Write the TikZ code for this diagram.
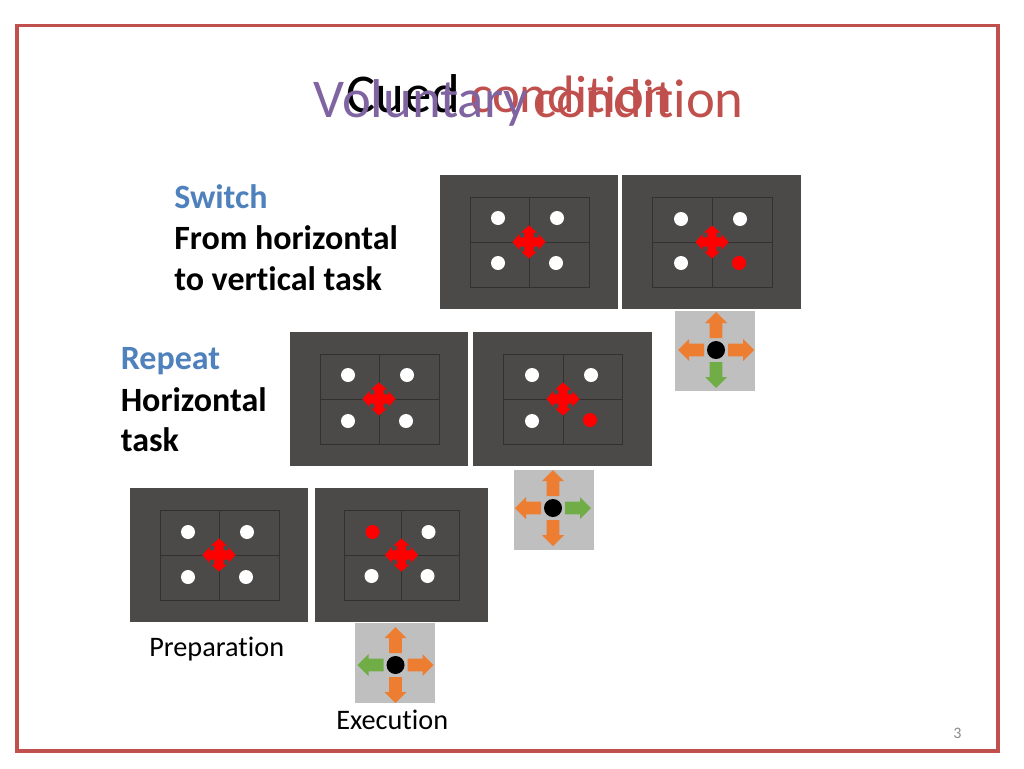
\documentclass[tikz,border=0pt]{standalone}
\usepackage{fontspec}
\setmainfont[Ligatures=CommonOff]{Carlito}
\definecolor{framered}{HTML}{C0504D}
\definecolor{titlepurple}{HTML}{8064A2}
\definecolor{headblue}{HTML}{4F81BD}
\definecolor{paneldark}{HTML}{4C4A48}
\definecolor{gridline}{HTML}{333130}
\definecolor{boxgray}{HTML}{BFBFBF}
\definecolor{arroworange}{HTML}{ED7D31}
\definecolor{arrowgreen}{HTML}{70AD47}
\definecolor{numgray}{HTML}{8B8B8B}
\tikzset{
  x=0.75pt,y=-0.75pt,
  gridbox/.style={draw=gridline,line width=0.6pt},
  dotw/.style={fill=white,draw=none},
  dotr/.style={fill=red,draw=none},
  titletext/.style={inner sep=0pt,anchor=base west,font=\fontsize{41}{43}\selectfont},
  headtext/.style={inner sep=0pt,anchor=base west,font=\fontsize{25.5}{27}\selectfont\bfseries},
  captext/.style={inner sep=0pt,anchor=base west,font=\fontsize{21.2}{23}\selectfont},
}
\newcommand{\stimpanel}[9]{%
  % #1 left #2 top #3 right #4 bottom #5 grid-left #6 grid-mid #7 grid-right #8 grid-top #9 cross y
  \fill[paneldark] (#1,#2) rectangle (#3,#4);
  \draw[gridbox] (#5,#8) rectangle (#7,#8+90);
  \draw[gridbox] (#5,#9) -- (#7,#9);
  \draw[gridbox] (#6,#8) -- (#6,#8+90);
  \begin{scope}[shift={(#6,#9)}]
    \foreach \a in {0,90,180,270}{
      \fill[red,rotate=\a] (-4.7,0) -- (-4.7,-9.5) -- (-8,-9.5) -- (0,-16.5) -- (8,-9.5) -- (4.7,-9.5) -- (4.7,0) -- cycle;
    }
  \end{scope}
}
\newcommand{\cuearrow}[2]{%
  \fill[#2,rotate=#1] (-6.3,-12) -- (-6.3,-27) -- (-11,-27) -- (0,-38) -- (11,-27) -- (6.3,-27) -- (6.3,-12) -- cycle;
}
\newcommand{\cuebox}[8]{%
  % #1 left #2 top #3 centre x #4 centre y, colours up right down left
  \fill[boxgray] (#1,#2) rectangle (#1+80,#2+80);
  \begin{scope}[shift={(#3,#4)}]
    \cuearrow{0}{#5}\cuearrow{270}{#6}\cuearrow{180}{#7}\cuearrow{90}{#8}
    \fill[black] (0,0) circle (9);
  \end{scope}
}
\begin{document}
\begin{tikzpicture}
\useasboundingbox (0,0) rectangle (1024,768);
\fill[white] (0,0) rectangle (1024,768);
\draw[framered,line width=2.6pt,line join=miter] (17,25.5) rectangle (998,751);

\node[titletext,black] (tcued) at (346.5,112.5) {Cued};
\node[titletext,framered,font=\fontsize{39.5}{42}\selectfont] (tc2) at (470,112.5) {condition};
\node[titletext,titlepurple] (tv) at (313,117) {Voluntary};
\node[titletext,framered] (tc) at (533.5,117) {condition};

\node[headtext,headblue] (s1) at (174,208) {Switch};
\node[headtext] (s2) at (174,249) {From horizontal};
\node[headtext] (s3) at (174,290) {to vertical task};
\node[headtext,headblue] (r1) at (120.5,369) {Repeat};
\node[headtext] (r2) at (120.5,411) {Horizontal};
\node[headtext] (r3) at (120.5,451) {task};

% top row
\stimpanel{440}{175}{618}{309}{470}{529}{589}{197}{242}
\fill[dotw] (498,218) circle (7) (557,218) circle (7) (498,263) circle (7) (556,263) circle (7);
\stimpanel{622}{175}{801}{309}{652}{712}{772}{197}{242}
\fill[dotw] (681,219) circle (7) (740,219) circle (7) (681,263) circle (7);
\fill[dotr] (739,263) circle (7);
\cuebox{675}{311}{716}{350}{arroworange}{arroworange}{arrowgreen}{arroworange}

% middle row
\stimpanel{290}{332}{468}{466}{320}{379}{439}{354}{399}
\fill[dotw] (348,375) circle (7) (407,375) circle (7) (348,421) circle (7) (406,421) circle (7);
\stimpanel{473}{332}{652}{466}{503}{563}{622}{354}{399}
\fill[dotw] (532,375) circle (7) (591,375) circle (7) (532,421) circle (7);
\fill[dotr] (590,420) circle (7);
\cuebox{514}{470}{553}{508}{arroworange}{arrowgreen}{arroworange}{arroworange}

% bottom row
\stimpanel{130}{488}{308}{622}{160}{219}{279}{510}{555}
\fill[dotw] (188,532) circle (7) (247,532) circle (7) (188,577) circle (7) (246,577) circle (7);
\stimpanel{315}{488}{488}{622}{344}{401.5}{459}{510}{555}
\fill[dotr] (372.5,532) circle (7);
\fill[dotw] (428.5,532) circle (7) (371.5,576) circle (7) (427.5,576) circle (7);
\cuebox{355}{623}{395.5}{665}{arroworange}{arroworange}{arroworange}{arrowgreen}

\node[captext] (prep) at (149,656.5) {Preparation};
\node[captext] (exec) at (336,729.5) {Execution};
\node[inner sep=0pt,anchor=base west,text=numgray,font=\fontsize{12}{14}\selectfont] (num) at (953,738) {3};
\end{tikzpicture}
\end{document}
